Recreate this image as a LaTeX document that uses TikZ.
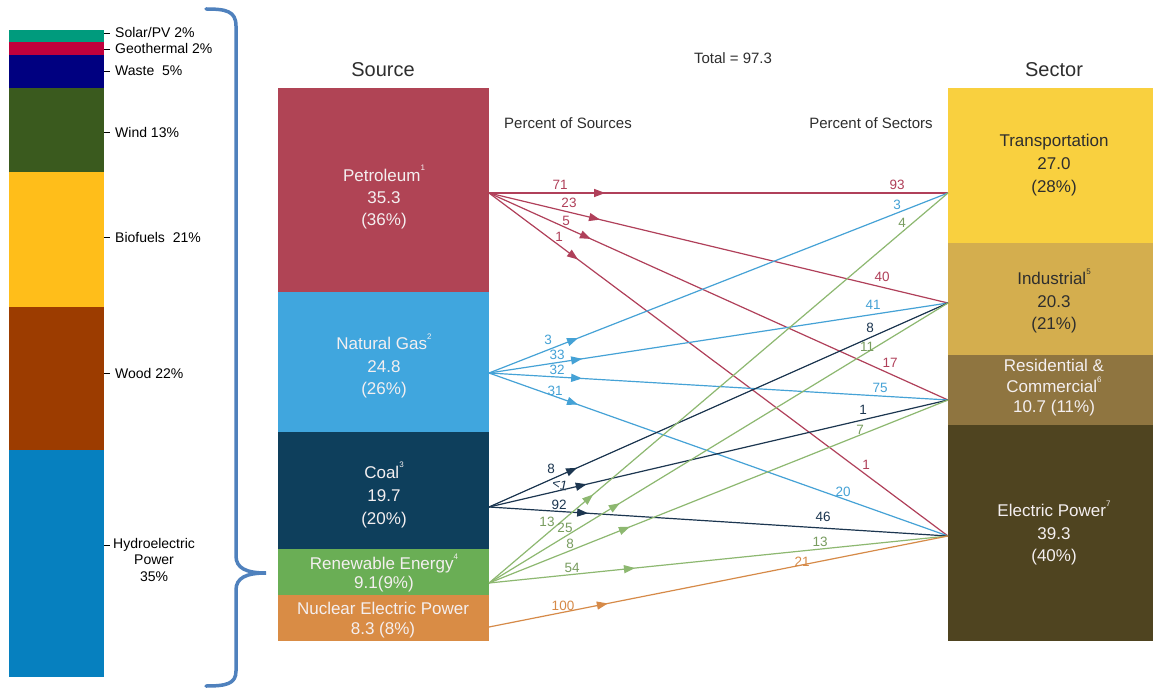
\documentclass[tikz,border=0pt]{standalone}
\usepackage{fontspec}
\setmainfont{Liberation Sans}
\usetikzlibrary{arrows.meta,decorations.markings}
\definecolor{petC}{HTML}{B04455}
\definecolor{gasC}{HTML}{40A6DE}
\definecolor{coalC}{HTML}{0E3F5C}
\definecolor{renC}{HTML}{6AAE55}
\definecolor{nucC}{HTML}{D98C45}
\definecolor{trC}{HTML}{F9D03F}
\definecolor{indC}{HTML}{D4AE4E}
\definecolor{resC}{HTML}{8F7540}
\definecolor{eleC}{HTML}{4F4420}
\definecolor{petL}{HTML}{B0405A}
\definecolor{gasL}{HTML}{45A2D6}
\definecolor{coalL}{HTML}{1C3650}
\definecolor{renL}{HTML}{8DB870}
\definecolor{nucL}{HTML}{D68A48}
\definecolor{braceC}{HTML}{4F81BD}
\definecolor{solarC}{HTML}{009B7D}
\definecolor{geoC}{HTML}{C0003C}
\definecolor{wasteC}{HTML}{000080}
\definecolor{windC}{HTML}{3A5A1E}
\definecolor{bioC}{HTML}{FFBE1A}
\definecolor{woodC}{HTML}{9C3C00}
\definecolor{hydroC}{HTML}{0680BF}
\definecolor{txtC}{HTML}{2E2E2E}
\definecolor{lightT}{HTML}{F4EFF0}
\newcommand\supnum[1]{\raisebox{0.6em}{\fontsize{8}{8}\selectfont #1}}
\begin{document}
\begin{tikzpicture}[x=1pt,y=-1pt,
  blk/.style={draw=none,inner sep=0pt,outer sep=0pt,anchor=north west},
  seg/.style={draw=none,inner sep=0pt,outer sep=0pt,anchor=north west,minimum width=95pt},
  btext/.style={align=center,inner sep=0pt,text=lightT},
  dtext/.style={align=center,inner sep=0pt,text=txtC},
  head/.style={inner sep=0pt,text=txtC,font=\fontsize{20}{22}\selectfont},
  sub/.style={inner sep=0pt,text=txtC,font=\fontsize{15}{17}\selectfont},
  lft/.style={inner sep=0pt,anchor=west,text=black,font=\fontsize{14}{16}\selectfont},
  tick/.style={black,line width=0.8pt},
  lbl/.style={inner sep=0pt,font=\fontsize{13.5}{13.5}\selectfont},
  flow/.style={line width=1.2pt,decoration={markings,mark=at position #1 with {\arrow{Triangle[length=11pt,width=8pt]}}},postaction={decorate}}
]
\useasboundingbox[fill=white] (0,0) rectangle (1153,692);

% ---------- left stacked bar ----------
\node[seg,fill=solarC,minimum height=12pt] (solar) at (9,30) {};
\node[seg,fill=geoC,minimum height=13pt] (geo) at (9,42) {};
\node[seg,fill=wasteC,minimum height=33pt] (waste) at (9,55) {};
\node[seg,fill=windC,minimum height=84pt] (wind) at (9,88) {};
\node[seg,fill=bioC,minimum height=135pt] (bio) at (9,172) {};
\node[seg,fill=woodC,minimum height=143pt] (wood) at (9,307) {};
\node[seg,fill=hydroC,minimum height=227pt] (hydro) at (9,450) {};

\node[lft] (solarT) at (115,33) {Solar/PV 2\%};
\node[lft] (geoT) at (115,49) {Geothermal 2\%};
\node[lft] (wasteT) at (115,71) {Waste\ \ 5\%};
\node[lft] (windT) at (115,132) {Wind 13\%};
\node[lft] (bioT) at (115,237) {Biofuels\ \ 21\%};
\node[lft] (woodT) at (115,373) {Wood 22\%};
\node[inner sep=0pt,anchor=north west,align=center,text=black,font=\fontsize{14}{16.5}\selectfont] (hydroT) at (113,538) {Hydroelectric\\Power\\35\%};
\draw[tick] (104,33) -- (110,33);
\draw[tick] (104,49) -- (110,49);
\draw[tick] (104,71) -- (110,71);
\draw[tick] (104,132) -- (110,132);
\draw[tick] (104,237) -- (110,237);
\draw[tick] (104,373) -- (110,373);
\draw[tick] (104,545) -- (110,545);

% ---------- brace ----------
\draw[braceC,line width=3.5pt,line cap=round] (206,9) .. controls (226,9) and (236,11) .. (236,26) -- (236,556)
  .. controls (236,568) and (246,573) .. (266,573) .. controls (246,573) and (236,578) .. (236,590)
  -- (236,671) .. controls (236,684) and (226,686) .. (206,686);

% ---------- headers ----------
\node[head] (srcH) at (383,70) {Source};
\node[head] (secH) at (1054,70) {Sector};
\node[sub] (tot) at (733,58) {Total = 97.3};
\node[sub] (pos) at (568,123) {Percent of Sources};
\node[sub] (pse) at (871,123) {Percent of Sectors};

% ---------- source boxes ----------
\node[blk,fill=petC,minimum width=211pt,minimum height=204pt] (pet) at (278,88) {};
\node[blk,fill=gasC,minimum width=211pt,minimum height=140pt] (gas) at (278,292) {};
\node[blk,fill=coalC,minimum width=211pt,minimum height=117pt] (coal) at (278,432) {};
\node[blk,fill=renC,minimum width=211pt,minimum height=46pt] (ren) at (278,549) {};
\node[blk,fill=nucC,minimum width=211pt,minimum height=46pt] (nuc) at (278,595) {};

\node[btext,font=\fontsize{17}{22}\selectfont] (petT) at (384,197) {Petroleum\supnum{1}\\35.3\\(36\%)};
\node[btext,font=\fontsize{17}{22.5}\selectfont] (gasT) at (384,366) {Natural Gas\supnum{2}\\24.8\\(26\%)};
\node[btext,font=\fontsize{17}{23}\selectfont] (coalT) at (384,495) {Coal\supnum{3}\\19.7\\(20\%)};
\node[btext,font=\fontsize{17}{19}\selectfont] (renT) at (384,573) {Renewable Energy\supnum{4}\\9.1(9\%)};
\node[btext,font=\fontsize{17}{20}\selectfont] (nucT) at (383,620) {Nuclear Electric Power\\8.3 (8\%)};

% ---------- sector boxes ----------
\node[blk,fill=trC,minimum width=205pt,minimum height=155pt] (tr) at (948,88) {};
\node[blk,fill=indC,minimum width=205pt,minimum height=112pt] (ind) at (948,243) {};
\node[blk,fill=resC,minimum width=205pt,minimum height=70pt] (res) at (948,355) {};
\node[blk,fill=eleC,minimum width=205pt,minimum height=216pt] (ele) at (948,425) {};

\node[dtext,font=\fontsize{17}{23}\selectfont] (trT) at (1054,165) {Transportation\\27.0\\(28\%)};
\node[dtext,font=\fontsize{17}{22.5}\selectfont] (indT) at (1054,301) {Industrial\supnum{5}\\20.3\\(21\%)};
\node[btext,font=\fontsize{17}{20.5}\selectfont] (resT) at (1054,388) {Residential \&\\Commercial\supnum{6}\\10.7 (11\%)};
\node[btext,font=\fontsize{17}{22.5}\selectfont] (eleT) at (1054,533) {Electric Power\supnum{7}\\39.3\\(40\%)};

% ---------- ports ----------
\coordinate (petO) at (489,193);
\coordinate (gasO) at (489,373);
\coordinate (coalO) at (489,507);
\coordinate (renO) at (489,583);
\coordinate (nucO) at (489,627);
\coordinate (trI) at (948,193);
\coordinate (indI) at (948,303);
\coordinate (resI) at (948,400);
\coordinate (eleI) at (948,536);

% ---------- flows ----------
\draw[flow=0.253,petL] (petO) -- (trI);
\draw[flow=0.242,petL] (petO) -- (indI);
\draw[flow=0.222,petL] (petO) -- (resI);
\draw[flow=0.194,petL] (petO) -- (eleI);

\draw[flow=0.194,gasL] (gasO) -- (trI);
\draw[flow=0.203,gasL] (gasO) -- (indI);
\draw[flow=0.203,gasL] (gasO) -- (resI);
\draw[flow=0.194,gasL] (gasO) -- (eleI);

\draw[flow=0.192,coalL] (coalO) -- (indI);
\draw[flow=0.213,coalL] (coalO) -- (resI);
\draw[flow=0.216,coalL] (coalO) -- (eleI);

\draw[flow=0.227,renL] (renO) -- (trI);
\draw[flow=0.285,renL] (renO) -- (indI);
\draw[flow=0.307,renL] (renO) -- (resI);
\draw[flow=0.318,renL] (renO) -- (eleI);

\draw[flow=0.259,nucL] (nucO) -- (eleI);

% ---------- flow labels ----------
\node[lbl,text=petL] (p1) at (560,185) {71};
\node[lbl,text=petL] (p2) at (569,203) {23};
\node[lbl,text=petL] (p3) at (566,221) {5};
\node[lbl,text=petL] (p4) at (559,237) {1};
\node[lbl,text=petL] (p5) at (897,185) {93};
\node[lbl,text=petL] (p6) at (882,277) {40};
\node[lbl,text=petL] (p7) at (890,363) {17};
\node[lbl,text=petL] (p8) at (866,465) {1};

\node[lbl,text=gasL] (g1) at (548,340) {3};
\node[lbl,text=gasL] (g2) at (557,355) {33};
\node[lbl,text=gasL] (g3) at (557,370) {32};
\node[lbl,text=gasL] (g4) at (555,391) {31};
\node[lbl,text=gasL] (g5) at (897,205) {3};
\node[lbl,text=gasL] (g6) at (873,305) {41};
\node[lbl,text=gasL] (g7) at (880,388) {75};
\node[lbl,text=gasL] (g8) at (843,492) {20};

\node[lbl,text=coalL] (c1) at (551,469) {8};
\node[lbl,text=coalL,rotate=-12] (c2) at (560,485) {<1};
\node[lbl,text=coalL] (c3) at (559,505) {92};
\node[lbl,text=coalL] (c4) at (870,328) {8};
\node[lbl,text=coalL] (c5) at (863,410) {1};
\node[lbl,text=coalL] (c6) at (823,517) {46};

\node[lbl,text=renL!85!black] (r1) at (547,522) {13};
\node[lbl,text=renL!85!black] (r2) at (565,528) {25};
\node[lbl,text=renL!85!black] (r3) at (570,544) {8};
\node[lbl,text=renL!85!black] (r4) at (572,568) {54};
\node[lbl,text=renL!85!black] (r5) at (902,223) {4};
\node[lbl,text=renL!85!black] (r6) at (867,347) {11};
\node[lbl,text=renL!85!black] (r7) at (860,430) {7};
\node[lbl,text=renL!85!black] (r8) at (820,542) {13};

\node[lbl,text=nucL] (n1) at (563,606) {100};
\node[lbl,text=nucL] (n2) at (802,562) {21};
\end{tikzpicture}
\end{document}
